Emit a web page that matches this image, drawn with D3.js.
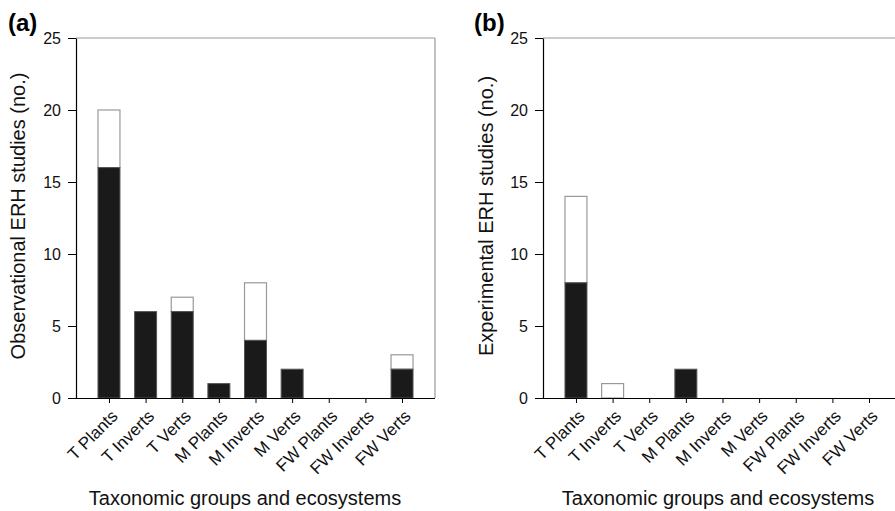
<!DOCTYPE html>
<html><head><meta charset="utf-8">
<script src="https://cdn.jsdelivr.net/npm/d3@7"></script>
<style>body{margin:0;background:#fff;} text{font-family:Arial,"Liberation Sans",sans-serif;}</style>
</head><body><svg id="c" width="895" height="511"></svg>
<script>
const categories = ["T Plants","T Inverts","T Verts","M Plants","M Inverts","M Verts","FW Plants","FW Inverts","FW Verts"];
const obsBlack = [16,6,6,1,4,2,0,0,2];
const obsWhite = [4,0,1,0,4,0,0,0,1];
const expBlack = [8,0,0,2,0,0,0,0,0];
const expWhite = [6,1,0,0,0,0,0,0,0];
const yTicks = [0,5,10,15,20,25];
const panels = [
  {label:"(a)", ytitle:"Observational ERH studies (no.)", black:obsBlack, white:obsWhite, x0:76, lx:8, tx:18, xtc:245},
  {label:"(b)", ytitle:"Experimental ERH studies (no.)", black:expBlack, white:expWhite, x0:543, lx:474, tx:486, xtc:718}
];
const svg = d3.select("#c");
const W = 359, plotTop = 38, plotBottom = 398;
const y = d3.scaleLinear().domain([0,25]).range([plotBottom, plotTop]);
panels.forEach(p => {
  const g = svg.append("g");
  const x = d3.scalePoint().domain(categories).range([p.x0, p.x0+W]).padding(0.9);
  const bw = x.step()*0.6;
  g.append("line").attr("x1",p.x0).attr("x2",p.x0+W).attr("y1",plotTop).attr("y2",plotTop).attr("stroke","#999").attr("stroke-width",1.2);
  g.append("line").attr("x1",p.x0+W).attr("x2",p.x0+W).attr("y1",plotTop).attr("y2",plotBottom).attr("stroke","#999").attr("stroke-width",1.2);
  categories.forEach((c,i) => {
    const b = p.black[i], w = p.white[i];
    if (w > 0) {
      g.append("rect").attr("x",x(c)-bw/2).attr("width",bw).attr("y",y(b+w)).attr("height",y(b)-y(b+w))
        .attr("fill","#fff").attr("stroke","#999").attr("stroke-width",1.2);
    }
    if (b > 0) {
      g.append("rect").attr("x",x(c)-bw/2).attr("width",bw).attr("y",y(b)).attr("height",y(0)-y(b))
        .attr("fill","#1a1a1a").attr("stroke","#555").attr("stroke-width",1);
    }
  });
  const ya = g.append("g").attr("transform",`translate(${p.x0},0)`)
    .call(d3.axisLeft(y).tickValues(yTicks).tickSize(8).tickPadding(7).tickSizeOuter(0));
  ya.select(".domain").attr("stroke","#000").attr("stroke-width",1.2);
  ya.selectAll("text").style("font-size","16px").attr("fill","#111");
  const xa = g.append("g").attr("transform",`translate(0,${plotBottom})`)
    .call(d3.axisBottom(x).tickSize(5).tickSizeOuter(0));
  xa.select(".domain").attr("d",`M${p.x0},0.5H${p.x0+W}`).attr("stroke","#000").attr("stroke-width",1.2);
  xa.selectAll("text").style("font-size","17px").attr("fill","#111")
    .attr("text-anchor","end").attr("y",0).attr("dy","0.35em")
    .attr("transform","translate(5,15) rotate(-45)");
  g.append("text").attr("x",p.lx).attr("y",31).style("font-size","24px").style("font-weight","bold").text(p.label);
  g.append("text").attr("transform",`translate(${p.tx},216) rotate(-90)`).attr("text-anchor","middle")
    .attr("dy","0.35em").style("font-size","20px").attr("fill","#111").text(p.ytitle);
  g.append("text").attr("x",p.xtc).attr("y",505).attr("text-anchor","middle").style("font-size","20px").attr("fill","#111")
    .text("Taxonomic groups and ecosystems");
});
</script></body></html>
